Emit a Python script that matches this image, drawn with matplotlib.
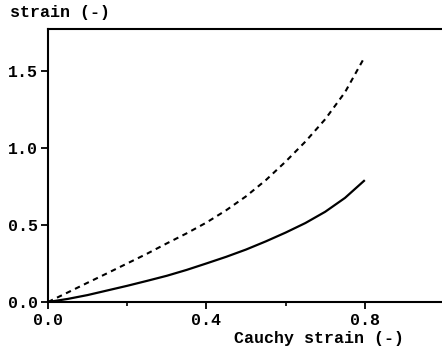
import matplotlib
matplotlib.use("Agg")
import matplotlib.pyplot as plt
from matplotlib.ticker import FixedLocator

x_cauchy = [0.0, 0.05, 0.1, 0.15, 0.2, 0.25, 0.3, 0.35, 0.4, 0.45,
            0.5, 0.55, 0.6, 0.65, 0.7, 0.75, 0.8]
solid_vals = [0.0, 0.02, 0.045, 0.075, 0.105, 0.137, 0.17, 0.208, 0.25, 0.293,
              0.34, 0.393, 0.45, 0.512, 0.585, 0.675, 0.79]
dashed_vals = [0.0, 0.062, 0.125, 0.187, 0.25, 0.313, 0.38, 0.445, 0.515, 0.595,
               0.685, 0.79, 0.91, 1.04, 1.185, 1.36, 1.59]
x_ticks = [0.0, 0.4, 0.8]
x_tick_labels = ["0.0", "0.4", "0.8"]
x_minor = [0.2, 0.6, 1.0]
y_ticks = [0.0, 0.5, 1.0, 1.5]
y_tick_labels = ["0.0", "0.5", "1.0", "1.5"]

font = {"family": "Liberation Mono", "weight": "bold", "size": 12}

fig = plt.figure(figsize=(4.42, 3.5), dpi=100)
ax = fig.add_axes([48/442, 48/350, 396/442, 273/350])
ax.plot(x_cauchy, solid_vals, color="black", lw=1.6, solid_capstyle="butt",
        solid_joinstyle="round")
ax.plot(x_cauchy, dashed_vals, color="black", lw=1.5, dashes=(2.6, 2.2))
ax.set_xlim(0, 1.0)
ax.set_ylim(0, 1.77)
for s in ax.spines.values():
    s.set_linewidth(1.5)
ax.set_xticks(x_ticks)
ax.set_xticklabels(x_tick_labels, fontdict=font)
ax.set_yticks(y_ticks)
ax.set_yticklabels(y_tick_labels, fontdict=font)
ax.xaxis.set_minor_locator(FixedLocator(x_minor))
ax.tick_params(axis="both", which="major", direction="out", length=5, width=1.3, pad=2)
ax.tick_params(axis="x", which="minor", direction="out", length=3, width=1.2)
ax.tick_params(axis="x", which="major", pad=3)

fig.text(10/442, 1 - 13/350, "strain (-)", ha="left", va="center", fontdict=font)
fig.text(404/442, 1 - 338/350, "Cauchy strain (-)", ha="right", va="center", fontdict=font)

fig.savefig("out.png", dpi=100)
